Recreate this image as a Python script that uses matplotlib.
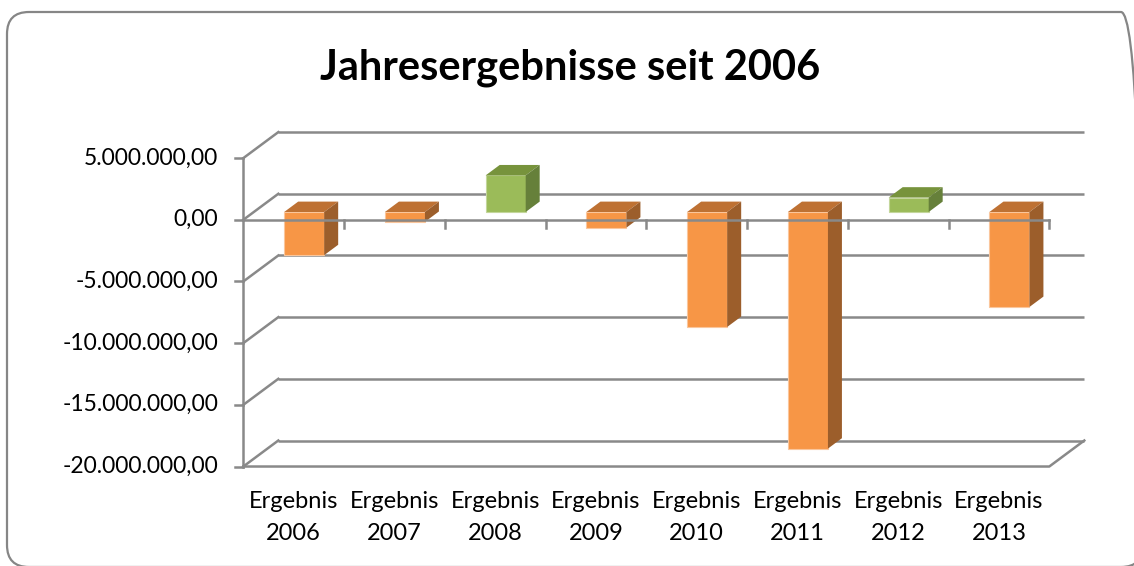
import matplotlib
matplotlib.use("Agg")
import matplotlib.pyplot as plt
from matplotlib.patches import Polygon, FancyBboxPatch
from matplotlib.transforms import IdentityTransform

plt.rcParams["font.family"] = ["Lato", "DejaVu Sans"]

TITLE = "Jahresergebnisse seit 2006"
YEARS = ["2006", "2007", "2008", "2009", "2010", "2011", "2012", "2013"]
VALUES = [-3500000, -800000, 2970000, -1270000, -9320000, -19180000, 1170000, -7700000]
YTICKS = [5000000, 0, -5000000, -10000000, -15000000, -20000000]

GRID = "#898989"
NEG = {"front": "#F79646", "top": "#BE7133", "side": "#9C5E2B", "edge": "#FAC69C"}
POS = {"front": "#9BBB59", "top": "#77933C", "side": "#66803A", "edge": "#C3D69B"}

W, H = 1134, 566
# pixel geometry of the front plane
X0PX, PXX = 243.3, 100.75          # left axis x, px per category
Y0PX, PXY = 219.8, 12.336e-6       # zero line y, px per euro
DX, DY = 35 / PXX, 26 / PXY        # full depth offset in data units
N = len(VALUES)


def de(v):
    s = f"{v:,.2f}"
    return s.replace(",", "X").replace(".", ",").replace("X", ".")


fig = plt.figure(figsize=(W / 100, H / 100), dpi=100)
fig.patch.set_facecolor("white")
# chart border (display px, origin bottom-left)
fig.patches.append(FancyBboxPatch((7, H - 567), 1136, 555,
                                  boxstyle="round,pad=0,rounding_size=22",
                                  transform=IdentityTransform(), fc="none", ec="#868686", lw=1.6,
                                  zorder=-1))
ax = fig.add_axes([0, 0, 1, 1])
ax.set_xlim(-X0PX / PXX, (W - X0PX) / PXX)
ax.set_ylim((Y0PX - H) / PXY, Y0PX / PXY)
ax.axis("off")
ax.patch.set_alpha(0)

lw = 1.8
# back wall grid and left wall
for v in YTICKS:
    ax.plot([DX, N + DX], [v + DY, v + DY], color=GRID, lw=lw, zorder=1, solid_capstyle="butt")
    ax.plot([0, DX], [v, v + DY], color=GRID, lw=lw, zorder=1)
    ax.plot([-8 / PXX, 0], [v, v], color=GRID, lw=lw, zorder=1)
    ax.text(-25 / PXX, v, de(v), ha="right", va="center", fontsize=16.5, color="#000000")

# floor
vmin = YTICKS[-1]
ax.plot([0, N, N + DX], [vmin, vmin, vmin + DY], color=GRID, lw=lw, zorder=1)
ax.plot([0, 0], [YTICKS[0], vmin], color=GRID, lw=lw, zorder=1)

# bars
bw = 40 / PXX
d0, dd = 0.3, 0.4
for i, v in enumerate(VALUES):
    c = POS if v > 0 else NEG
    xc = i + 0.5 + d0 * DX
    xl, xr = xc - bw / 2, xc + bw / 2
    base = d0 * DY
    hi, lo = max(v, 0) + base, min(v, 0) + base
    ax.bar(xc, v, width=bw, bottom=base, color=c["front"], edgecolor=c["edge"], lw=0.8, zorder=3)
    ax.add_patch(Polygon([(xl, hi), (xr, hi), (xr + dd * DX, hi + dd * DY), (xl + dd * DX, hi + dd * DY)],
                         closed=True, fc=c["top"], ec="none", zorder=3))
    ax.add_patch(Polygon([(xr, hi), (xr, lo), (xr + dd * DX, lo + dd * DY), (xr + dd * DX, hi + dd * DY)],
                         closed=True, fc=c["side"], ec="none", zorder=3))

# front zero line with category ticks
ax.plot([0, N], [0, 0], color=GRID, lw=lw, zorder=4)
for k in range(1, N + 1):
    ax.plot([k, k], [0, -8 / PXY], color=GRID, lw=lw, zorder=4)

# category labels
for i, y in enumerate(YEARS):
    ax.text(i + 0.5, (Y0PX - 502) / PXY, "Ergebnis", ha="center", va="center", fontsize=17)
    ax.text(i + 0.5, (Y0PX - 533) / PXY, y, ha="center", va="center", fontsize=17)

ax.text((570 - X0PX) / PXX, (Y0PX - 68) / PXY, TITLE, ha="center", va="center",
        fontsize=30, fontweight="bold")

fig.savefig("out.png", dpi=100)
